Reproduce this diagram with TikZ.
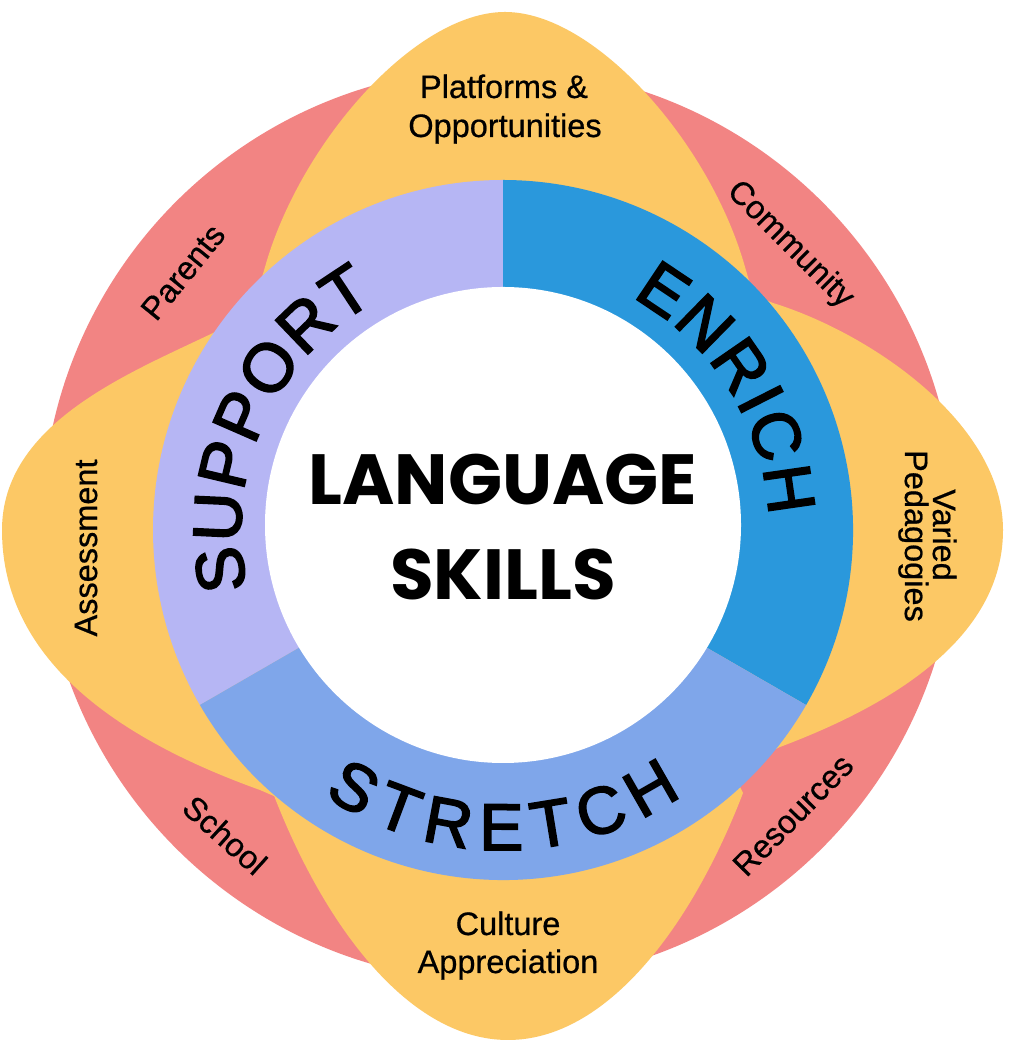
\documentclass[tikz,border=0pt]{standalone}
\usepackage{fontspec}
\setmainfont{Liberation Sans}[FakeBold=0.6]
\newfontfamily\popfont{Poppins}
\newfontfamily\ringfont{Liberation Sans}[FakeBold=2.6]
\usetikzlibrary{decorations.text,calc}
\definecolor{petalred}{HTML}{F28483}
\definecolor{petalyellow}{HTML}{FCC865}
\definecolor{suplav}{HTML}{B6B6F4}
\definecolor{enrblue}{HTML}{2A98DC}
\definecolor{strblue}{HTML}{7FA6EA}
\tikzset{
  petal/.style={fill=petalyellow},
  lbl/.style={font=\fontsize{32.5}{32.5}\selectfont, inner sep=0pt, text=black},
  bigtxt/.style={font=\popfont\bfseries\fontsize{71}{71}\selectfont, inner sep=0pt, anchor=base},
}
\begin{document}
\begin{tikzpicture}[x=1pt,y=1pt]
\useasboundingbox (0,0) rectangle (1009,1048);
\fill[white] (0,0) rectangle (1009,1048);
\coordinate (rc) at (503,518);
\coordinate (wc) at (503,523);
\coordinate (oc) at (499,523);
% red circle
\fill[petalred] (oc) circle[radius=457];
% petals
\fill[petal] (rc) -- (258,757) -- (265,781) .. controls (300,905) and (415,1036) .. (505,1036)
  .. controls (595,1036) and (710,905) .. (745,781) -- (752,757) -- cycle;
\fill[petal] (rc) -- (230,724) -- (213,715) .. controls (130,675) and (2,625) .. (2,518)
  .. controls (2,390) and (115,310) .. (260,258) -- (283,248) -- cycle;
\fill[petal] (rc) -- (758,751) -- (773,745) .. controls (870,715) and (1003,625) .. (1003,518)
  .. controls (1003,400) and (870,335) .. (780,301) -- (765,294) -- cycle;
\fill[petal] (rc) -- (268,265) -- (273,255) .. controls (325,120) and (410,8) .. (508,8)
  .. controls (606,8) and (691,120) .. (743,255) -- (735,271) -- cycle;
% ring
\fill[suplav] (rc) -- ++(90:350) arc[start angle=90,end angle=210,radius=350] -- cycle;
\fill[enrblue] (rc) -- ++(-30:350) arc[start angle=-30,end angle=90,radius=350] -- cycle;
\fill[strblue] (rc) -- ++(210:350) arc[start angle=210,end angle=330,radius=350] -- cycle;
\fill[white] (wc) circle[radius=238];
% ring texts
\path[decorate, decoration={text along path, text={|\ringfont\fontsize{68}{68}\selectfont|SUPPORT}, text align={fit to path}}]
  ($(rc)+(193:262)$) arc[start angle=193, end angle=119, radius=262];
\path[decorate, decoration={text along path, text={|\ringfont\fontsize{67}{67}\selectfont|ENRICH}, text align={fit to path}}]
  ($(rc)+(61:266)$) arc[start angle=61, end angle=3, radius=266];
\path[decorate, decoration={text along path, text={|\ringfont\fontsize{66}{66}\selectfont|STRETCH}, text align={fit to path}}]
  ($(rc)+(236:320)$) arc[start angle=236, end angle=304, radius=320];
% centre
\node[bigtxt] (lang) at (503,543) {LANGUAGE};
\node[bigtxt] (skills) at (503,448) {SKILLS};
% petal labels
\node[lbl, anchor=base] (plat) at (504,950) {Platforms \&};
\node[lbl, anchor=base] (opp) at (505,911) {Opportunities};
\node[lbl, anchor=base] (cult) at (508,113) {Culture};
\node[lbl, anchor=base] (appr) at (508,75) {Appreciation};
\node[lbl, anchor=base, rotate=90] (assess) at (97,500) {Assessment};
\node[lbl, anchor=base, rotate=-90] (varied) at (933,513) {Varied};
\node[lbl, anchor=base, rotate=-90] (peda) at (905,512) {Pedagogies};
% red labels
\node[lbl, rotate=51] (parents) at (183,776) {Parents};
\node[lbl, rotate=-45] (comm) at (790,803) {Community};
\node[lbl, rotate=-42] (school) at (225,213) {School};
\node[lbl, rotate=45.5] (res) at (793,233) {Resources};
\end{tikzpicture}
\end{document}
